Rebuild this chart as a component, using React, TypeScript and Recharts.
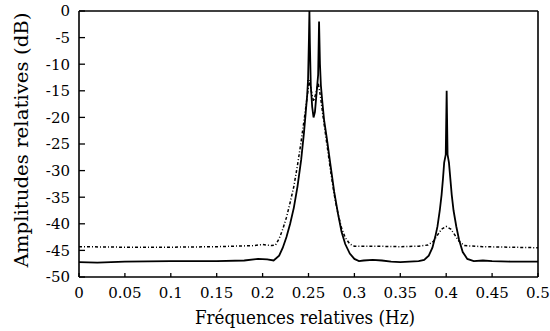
import React from 'react';
import { LineChart, Line, XAxis, YAxis, Label } from 'recharts';

const xTicks = [0, 0.05, 0.1, 0.15, 0.2, 0.25, 0.3, 0.35, 0.4, 0.45, 0.5];
const yTicks = [0, -5, -10, -15, -20, -25, -30, -35, -40, -45, -50];

const solidFreq = [
  0, 0.02, 0.05, 0.1, 0.15, 0.18, 0.195, 0.205, 0.212, 0.218, 0.222, 0.226, 0.23, 0.234,
  0.238, 0.242, 0.245, 0.247, 0.2485, 0.2495, 0.2505, 0.251, 0.2515, 0.2525, 0.254, 0.2555,
  0.257, 0.259, 0.2605, 0.2615, 0.2625, 0.2635, 0.265, 0.267, 0.27, 0.274, 0.278, 0.282,
  0.286, 0.29, 0.295, 0.3, 0.305, 0.31, 0.32, 0.33, 0.34, 0.35, 0.36, 0.37, 0.376, 0.381,
  0.385, 0.388, 0.3905, 0.393, 0.395, 0.3965, 0.3978, 0.3995, 0.4005, 0.4015, 0.403, 0.4045,
  0.406, 0.408, 0.411, 0.414, 0.418, 0.423, 0.43, 0.44, 0.45, 0.47, 0.5,
];
const solidDb = [
  -47.2, -47.3, -47.1, -47.0, -47.0, -46.9, -46.6, -46.7, -46.9, -46.0, -44.5, -42.5, -40, -37,
  -33, -28, -23, -19, -16, -13, -5, 0, -6, -14, -18, -20,
  -19, -15, -12, -2, -10, -14, -17, -20.5, -24, -29, -34, -38,
  -41.5, -43.8, -45.6, -46.6, -47.0, -46.9, -46.8, -46.9, -47.1, -47.2, -47.1, -47.0, -46.8, -46,
  -44.5, -42.5, -40.5, -37.5, -34.5, -31.5, -28.5, -27, -15, -27, -28.5, -31.5,
  -34.5, -37.5, -40.5, -43, -45.3, -46.6, -47.0, -46.9, -47.0, -47.1, -47.1,
];

const dashedFreq = [
  0, 0.05, 0.1, 0.15, 0.19, 0.2, 0.21, 0.214, 0.218, 0.222, 0.226, 0.23, 0.234, 0.238, 0.242,
  0.246, 0.249, 0.251, 0.253, 0.2555, 0.258, 0.2605, 0.263, 0.266, 0.27, 0.274, 0.278, 0.282,
  0.286, 0.29, 0.295, 0.3, 0.32, 0.35, 0.37, 0.38, 0.386, 0.391, 0.395, 0.4, 0.405, 0.409,
  0.414, 0.42, 0.44, 0.47, 0.5,
];
const dashedDb = [
  -44.3, -44.4, -44.4, -44.3, -44.1, -43.9, -44.1, -44.0, -42.8, -41, -38.8, -36, -33, -29, -24.5,
  -19.5, -15.5, -13, -15, -17, -15.5, -13.5, -16, -20, -25, -30, -34.5, -38,
  -40.8, -42.6, -43.8, -44.2, -44.2, -44.3, -44.2, -44.0, -43.3, -42, -41, -40.5, -41, -42,
  -43.3, -44.1, -44.3, -44.4, -44.5,
];

const solidData = solidFreq.map((f, i) => ({ f, v: solidDb[i] }));
const dashedData = dashedFreq.map((f, i) => ({ f, v: dashedDb[i] }));

const FONT = 'DejaVu Serif, Liberation Serif, Times, serif';
const fmt = (v: number) => String(v);
const tickStyle = { fill: '#000', fontSize: 15, fontFamily: FONT };

export default function App() {
  return (
    <div style={{ position: 'absolute', left: 0, top: 0, width: 550, height: 331, background: '#fff' }}>
      <LineChart width={550} height={331} margin={{ top: 10, right: 11, bottom: 0, left: 0 }}>
        <XAxis
          dataKey="f"
          type="number"
          domain={[0, 0.5]}
          ticks={xTicks}
          tickFormatter={fmt}
          height={54}
          tickSize={-4}
          tickMargin={14}
          axisLine={{ stroke: '#000', strokeWidth: 1.6 }}
          tickLine={{ stroke: '#000', strokeWidth: 1.3 }}
          tick={tickStyle}
          interval={0}
        >
          <Label
            content={() => (
              <text
                x={305}
                y={324}
                textAnchor="middle"
                fontFamily={FONT}
                fontSize={18}
                textLength={220}
                lengthAdjust="spacingAndGlyphs"
                fill="#000"
              >
                Fréquences relatives (Hz)
              </text>
            )}
          />
        </XAxis>
        <XAxis
          xAxisId="top"
          orientation="top"
          type="number"
          domain={[0, 0.5]}
          ticks={xTicks}
          height={1}
          tick={false}
          tickSize={-3}
          axisLine={{ stroke: '#000', strokeWidth: 1.6 }}
          tickLine={{ stroke: '#000', strokeWidth: 1.3 }}
          interval={0}
        />
        <YAxis
          type="number"
          domain={[-50, 0]}
          ticks={yTicks}
          tickFormatter={fmt}
          width={79}
          tickSize={-6}
          tickMargin={15}
          axisLine={{ stroke: '#000', strokeWidth: 1.6 }}
          tickLine={{ stroke: '#000', strokeWidth: 1.3 }}
          tick={tickStyle}
          interval={0}
        >
          <Label
            content={() => (
              <text
                x={28}
                y={140}
                transform="rotate(-90 28 140)"
                textAnchor="middle"
                fontFamily={FONT}
                fontSize={18}
                textLength={255}
                lengthAdjust="spacingAndGlyphs"
                fill="#000"
              >
                Amplitudes relatives (dB)
              </text>
            )}
          />
        </YAxis>
        <YAxis
          yAxisId="right"
          orientation="right"
          type="number"
          domain={[-50, 0]}
          ticks={yTicks}
          width={1}
          tick={false}
          tickSize={-5}
          axisLine={{ stroke: '#000', strokeWidth: 1.6 }}
          tickLine={{ stroke: '#000', strokeWidth: 1.3 }}
          interval={0}
        />
        <Line
          data={dashedData}
          dataKey="v"
          type="linear"
          stroke="#000"
          strokeWidth={1.5}
          strokeDasharray="3 2 1 2"
          dot={false}
          isAnimationActive={false}
        />
        <Line
          data={solidData}
          dataKey="v"
          type="linear"
          stroke="#000"
          strokeWidth={1.8}
          dot={false}
          isAnimationActive={false}
        />
      </LineChart>
    </div>
  );
}
